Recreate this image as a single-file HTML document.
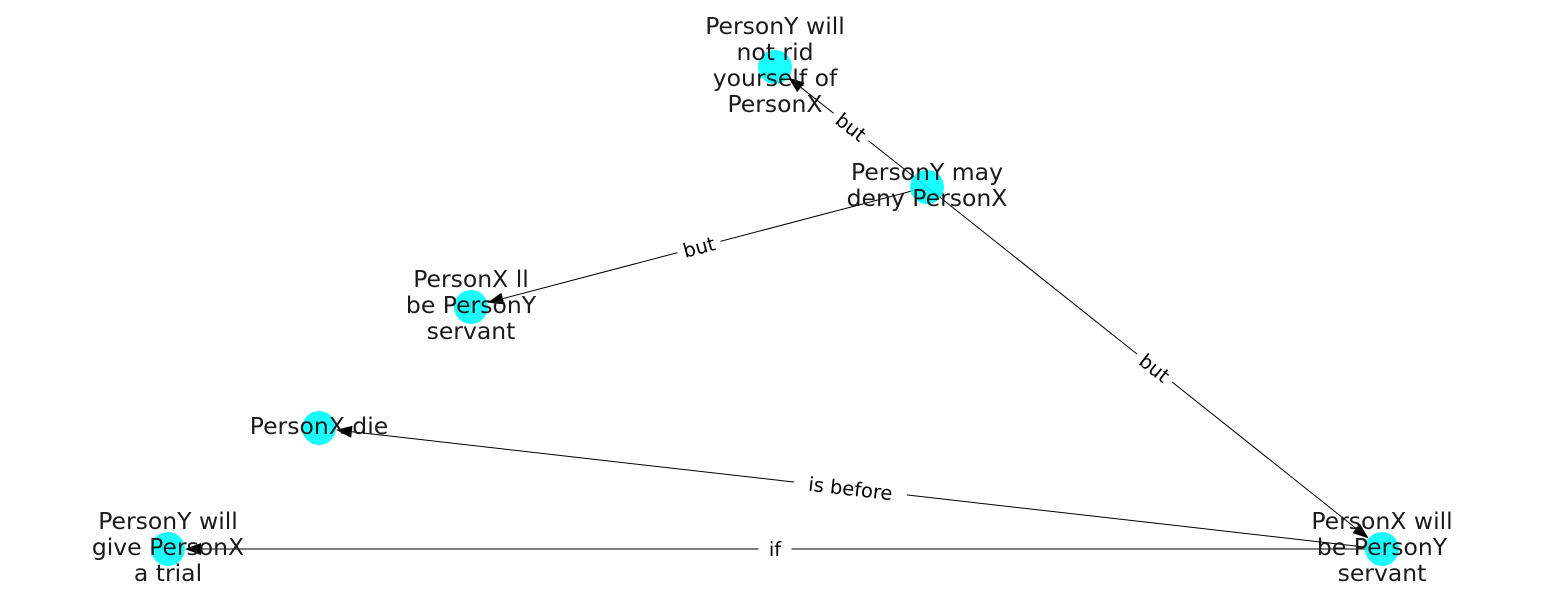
<!DOCTYPE html>
<html><head><meta charset="utf-8"><style>
html,body{margin:0;padding:0;background:#fff;}
svg{display:block;}
text{font-family:"DejaVu Sans","Liberation Sans",sans-serif;}
</style></head><body>
<svg id="s" width="1550" height="616" xmlns="http://www.w3.org/2000/svg"></svg>
<script>
const N={
A:[775,67,["PersonY will","not rid","yourself of","PersonX"]],
B:[927,187,["PersonY may","deny PersonX"]],
C:[471,307,["PersonX ll","be PersonY","servant"]],
D:[319,428,["PersonX die"]],
E:[168,549,["PersonY will","give PersonX","a trial"]],
F:[1382,549,["PersonX will","be PersonY","servant"]]};
const Ed=[["B","A","but"],["B","C","but"],["B","F","but"],["F","D","is before"],["F","E","if"]];
let h="";
const R=17;
for(const [s,t,l] of Ed){
 const [x1,y1]=N[s],[x2,y2]=N[t];
 const dx=x2-x1,dy=y2-y1,L=Math.hypot(dx,dy),ux=dx/L,uy=dy/L;
 const tx=x2-ux*R,ty=y2-uy*R;
 const bx=tx-ux*16,by=ty-uy*16;
 h+=`<line x1="${x1}" y1="${y1}" x2="${bx}" y2="${by}" stroke="#000" stroke-width="1"/>`;
 const px=-uy*6,py=ux*6;
 h+=`<polygon points="${tx},${ty} ${bx+px},${by+py} ${bx-px},${by-py}" fill="#000"/>`;
}
for(const k in N){const [x,y]=N[k];h+=`<circle cx="${x}" cy="${y}" r="17" fill="#00ffff" fill-opacity="0.9"/>`;}
for(const [s,t,l] of Ed){
 const [x1,y1]=N[s],[x2,y2]=N[t];
 let a=Math.atan2(y2-y1,x2-x1)*180/Math.PI;
 if(a>90)a-=180; if(a<-90)a+=180;
 const mx=(x1+x2)/2,my=(y1+y2)/2;
 const w=l.length*11.5+10;
 h+=`<g transform="translate(${mx},${my}) rotate(${a})"><rect x="${-w/2}" y="-12" width="${w}" height="24" fill="#fff"/><text x="0" y="7" font-size="19.5" text-anchor="middle" fill="#000">${l}</text></g>`;
}
for(const k in N){const [x,y,ls]=N[k];const n=ls.length;
 ls.forEach((s,i)=>{const yy=y+(i-(n-1)/2)*26+6;
 h+=`<text x="${x}" y="${yy}" font-size="23.5" text-anchor="middle" fill="#1a1a1a">${s}</text>`;});}
document.getElementById("s").innerHTML=h;
</script>
</body></html>
